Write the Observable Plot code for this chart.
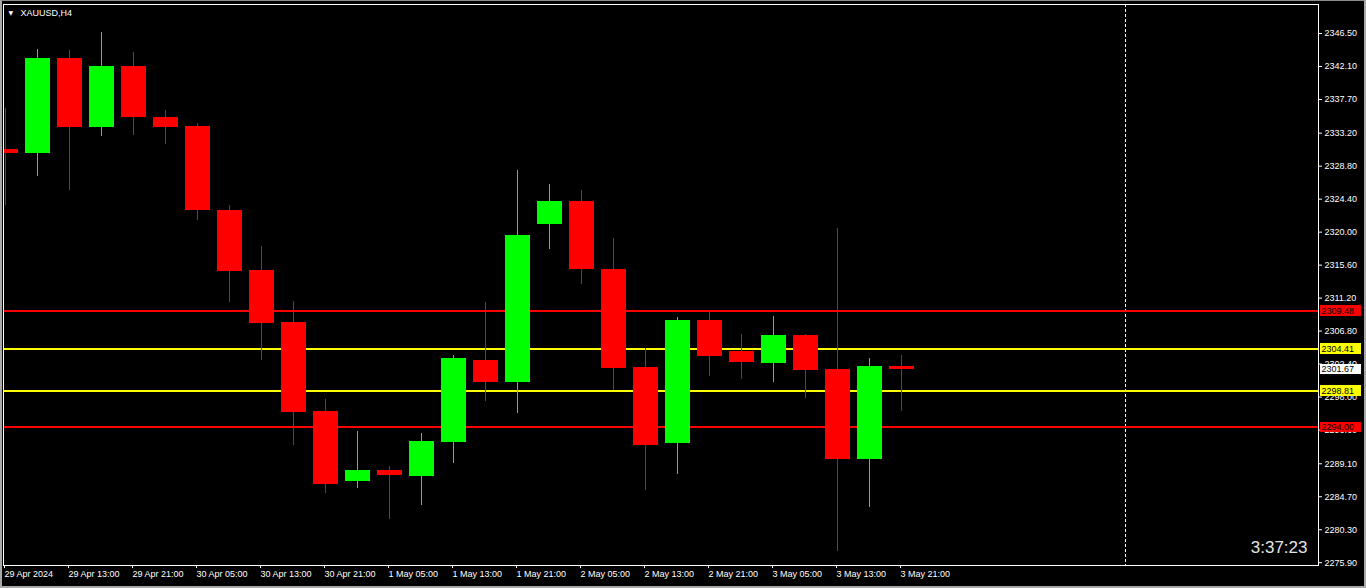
<!DOCTYPE html>
<html>
<head>
<meta charset="utf-8">
<script src="https://cdn.jsdelivr.net/npm/d3@7"></script>
<script src="https://cdn.jsdelivr.net/npm/@observablehq/plot@0.6"></script>
<style>
html, body { margin: 0; padding: 0; background: #000; }
#wrap { position: relative; width: 1366px; height: 588px; overflow: hidden; background: #000; }
#border { position: absolute; left: 0; top: 0; right: 0; bottom: 0; box-sizing: border-box;
  border-top: 1px solid #8c8c8c; border-left: 2px solid #a8a8a8; border-right: 2px solid #a8a8a8; border-bottom: 2px solid #a8a8a8; pointer-events: none; }
svg { display: block; }
</style>
</head>
<body>
<div id="wrap"><div id="border"></div></div>
<script>
// ---- data (XAUUSD, H4) ----
const candleTimes = [
  "29 Apr 05:00","29 Apr 09:00","29 Apr 13:00","29 Apr 17:00","29 Apr 21:00",
  "30 Apr 01:00","30 Apr 05:00","30 Apr 09:00","30 Apr 13:00","30 Apr 17:00","30 Apr 21:00",
  "1 May 01:00","1 May 05:00","1 May 09:00","1 May 13:00","1 May 17:00","1 May 21:00",
  "2 May 01:00","2 May 05:00","2 May 09:00","2 May 13:00","2 May 17:00","2 May 21:00",
  "3 May 01:00","3 May 05:00","3 May 09:00","3 May 13:00","3 May 17:00","3 May 21:00"
];
const openP  = [2331.09, 2330.46, 2343.23, 2333.93, 2342.16, 2335.23, 2334.03, 2322.95, 2314.82, 2307.88, 2296.01, 2286.71, 2288.14, 2287.37, 2291.91, 2302.94, 2299.92, 2320.99, 2324.15, 2315.08, 2301.88, 2291.78, 2308.15, 2304.14, 2302.45, 2306.15, 2301.61, 2289.64, 2302.14];
const highP  = [2336.56, 2344.43, 2344.17, 2346.70, 2343.90, 2336.29, 2334.43, 2323.62, 2318.02, 2310.81, 2297.61, 2293.34, 2288.80, 2293.20, 2303.48, 2310.55, 2328.29, 2326.42, 2325.62, 2319.09, 2304.54, 2308.55, 2309.35, 2306.41, 2308.81, 2306.41, 2320.55, 2303.21, 2303.48];
const lowP   = [2323.53, 2327.40, 2325.53, 2332.73, 2332.87, 2331.67, 2321.62, 2310.59, 2302.85, 2291.51, 2285.11, 2285.77, 2281.64, 2283.51, 2289.11, 2297.38, 2295.78, 2317.66, 2312.99, 2298.85, 2285.51, 2287.64, 2300.72, 2300.32, 2299.92, 2297.78, 2277.37, 2283.24, 2296.05];
const closeP = [2330.46, 2343.23, 2333.93, 2342.16, 2335.23, 2333.93, 2322.86, 2314.72, 2307.79, 2295.91, 2286.31, 2288.14, 2287.51, 2292.01, 2303.08, 2299.92, 2319.49, 2324.15, 2314.99, 2301.78, 2291.51, 2308.15, 2303.38, 2302.58, 2306.15, 2301.52, 2289.64, 2302.14, 2301.67];

const redLevels = [2309.48, 2294.00];
const yellowLevels = [2304.41, 2298.81];
const currentPrice = 2301.67;
const separatorBar = 35; // period separator (bars from the first visible bar)

const yTicks = [2346.50, 2342.10, 2337.70, 2333.20, 2328.80, 2324.40, 2320.00, 2315.60, 2311.20, 2306.80, 2302.40, 2298.00, 2293.60, 2289.10, 2284.70, 2280.30, 2275.90];
const xTickLabels = ["29 Apr 2024","29 Apr 13:00","29 Apr 21:00","30 Apr 05:00","30 Apr 13:00","30 Apr 21:00","1 May 05:00","1 May 13:00","1 May 21:00","2 May 05:00","2 May 13:00","2 May 21:00","3 May 05:00","3 May 13:00","3 May 21:00"];
const symbolTitle = "XAUUSD,H4";
const clockText = "3:37:23";

// ---- build table ----
const candles = candleTimes.map((t, i) => ({i, t, open: openP[i], high: highP[i], low: lowP[i], close: closeP[i]}));
const up = candles.filter(d => d.close >= d.open);
const down = candles.filter(d => d.close < d.open);
const xTickIdx = xTickLabels.map((_, k) => k * 2);

const UP = "#00ff00", DOWN = "#ff0000", YEL = "#ffff00", FG = "#ffffff";
const half = 12.5 / 32;
const lbl0 = 41.08, lbl1 = 42.39; // right-hand price tag extent, in bar units
const tagH = 0.67;

const chart = Plot.plot({
  width: 1366,
  height: 588,
  marginLeft: 3,
  marginRight: 48,
  marginTop: 4,
  marginBottom: 23,
  style: {background: "#000", color: FG, fontFamily: "Liberation Sans, Arial, sans-serif", fontSize: "9px"},
  x: {type: "linear", domain: [(3 - 5) / 32, (1318 - 5) / 32]},
  y: {type: "linear", domain: [2346.5 - 532 / 7.496, 2346.5 + 29 / 7.496]},
  marks: [
    Plot.axisY({anchor: "right", ticks: yTicks, tickFormat: d => d.toFixed(2), tickSize: 3, tickPadding: 3, stroke: FG, fill: FG, label: null, fontSize: 9}),
    Plot.axisX({anchor: "bottom", ticks: xTickIdx, tickFormat: i => xTickLabels[i / 2], tickSize: 3, tickPadding: 2, textAnchor: "start", dx: -1, stroke: FG, fill: FG, label: null, fontSize: 9}),
    // period separator
    Plot.ruleX([separatorBar], {stroke: FG, strokeWidth: 1, strokeDasharray: "3,2", shapeRendering: "crispEdges"}),
    // horizontal levels
    Plot.ruleY(redLevels, {stroke: DOWN, strokeWidth: 2, shapeRendering: "crispEdges"}),
    Plot.ruleY(yellowLevels, {stroke: YEL, strokeWidth: 2, shapeRendering: "crispEdges"}),
    // wicks
    Plot.ruleX(up, {x: "i", y1: "low", y2: "high", stroke: UP, strokeWidth: 1, clip: true, shapeRendering: "crispEdges"}),
    Plot.ruleX(down, {x: "i", y1: "low", y2: "high", stroke: DOWN, strokeWidth: 1, clip: true, shapeRendering: "crispEdges"}),
    // bodies
    Plot.rect(up, {x1: d => d.i - half, x2: d => d.i + half, y1: "open", y2: "close", fill: UP, clip: true, shapeRendering: "crispEdges"}),
    Plot.rect(down, {x1: d => d.i - half, x2: d => d.i + half, y1: "open", y2: "close", fill: DOWN, clip: true, shapeRendering: "crispEdges"}),
    // frame
    Plot.frame({stroke: FG, strokeWidth: 1, shapeRendering: "crispEdges"}),
    // price tags on the right
    Plot.rect(redLevels, {x1: lbl0, x2: lbl1, y1: d => d - tagH, y2: d => d + tagH, fill: DOWN, shapeRendering: "crispEdges"}),
    Plot.rect(yellowLevels, {x1: lbl0, x2: lbl1, y1: d => d - tagH, y2: d => d + tagH, fill: YEL, shapeRendering: "crispEdges"}),
    Plot.rect([currentPrice], {x1: lbl0, x2: lbl1, y1: d => d - tagH, y2: d => d + tagH, fill: FG, shapeRendering: "crispEdges"}),
    Plot.text([...redLevels, ...yellowLevels, currentPrice], {y: d => d, frameAnchor: "right", dx: 3, textAnchor: "start", text: d => d.toFixed(2), fill: "#000", fontSize: 9}),
    // title
    Plot.text(["▼"], {frameAnchor: "top-left", dx: 5, dy: 6, fontSize: 6, fill: FG, fontFamily: "DejaVu Sans"}),
    Plot.text([symbolTitle], {frameAnchor: "top-left", dx: 17, dy: 5, fontSize: 9, fill: FG}),
    // countdown clock
    Plot.text([clockText], {frameAnchor: "bottom-right", dx: -11, dy: -13, fontSize: 17, fill: "#e6e6e6"})
  ]
});
document.getElementById("wrap").prepend(chart);
</script>
</body>
</html>
